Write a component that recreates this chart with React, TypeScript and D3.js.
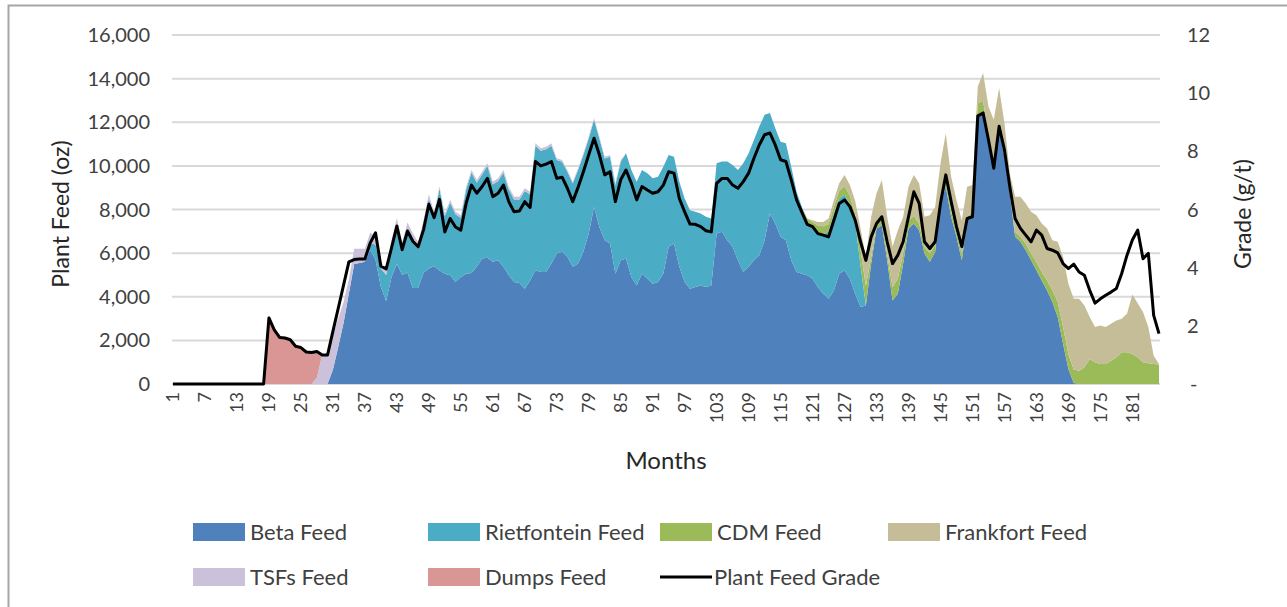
import * as d3 from 'd3';

// months 1..186 on the category axis
const months = d3.range(1, 187);
const xTicks = [1, 7, 13, 19, 25, 31, 37, 43, 49, 55, 61, 67, 73, 79, 85, 91, 97, 103, 109, 115, 121, 127, 133, 139, 145, 151, 157, 163, 169, 175, 181];
const leftTicks = [0, 2000, 4000, 6000, 8000, 10000, 12000, 14000, 16000];
const rightTicks = [0, 2, 4, 6, 8, 10, 12];

const betaFeed = [
  0, 0, 0, 0, 0, 0, 0, 0, 0, 0,
  0, 0, 0, 0, 0, 0, 0, 0, 0, 0,
  0, 0, 0, 0, 0, 0, 0, 0, 0, 0,
  650, 1700, 2800, 4150, 5500, 5550, 5600, 6150, 5700, 4450,
  3800, 4900, 5500, 5000, 5100, 4400, 4400, 5100, 5300, 5400,
  5200, 5060, 4980, 4680, 4900, 5060, 5090, 5370, 5750, 5790,
  5600, 5670, 5370, 4980, 4680, 4630, 4370, 4750, 5210, 5140,
  5140, 5520, 5980, 6060, 5830, 5370, 5520, 6060, 6900, 8120,
  7200, 6590, 6440, 5060, 5670, 5750, 4900, 4520, 5060, 4830,
  4600, 4680, 5060, 6290, 6440, 5370, 4680, 4370, 4450, 4520,
  4450, 4520, 6900, 6980, 6590, 6290, 5670, 5140, 5370, 5670,
  5900, 6590, 7820, 7360, 6750, 6590, 5670, 5140, 5060, 4980,
  4830, 4450, 4140, 3910, 4290, 5060, 5210, 4830, 4140, 3530,
  3600, 5520, 7130, 7280, 5670, 3830, 4140, 5520, 7130, 7360,
  7050, 5980, 5600, 6060, 8280, 9040, 7670, 6750, 5670, 7510,
  7740, 12260, 12340, 11040, 9810, 11650, 10420, 8740, 6750, 6520,
  6130, 5670, 5210, 4750, 4290, 3760, 3070, 1840, 690, 50,
  0, 0, 0, 0, 0, 0, 0, 0, 0, 0,
  0, 0, 0, 0, 0, 0,
];

const rietfonteinFeed = [
  0, 0, 0, 0, 0, 0, 0, 0, 0, 0,
  0, 0, 0, 0, 0, 0, 0, 0, 0, 0,
  0, 0, 0, 0, 0, 0, 0, 0, 0, 0,
  0, 0, 0, 0, 0, 0, 0, 300, 700, 850,
  1200, 1400, 1850, 1250, 2050, 2300, 1900, 2200, 3200, 2350,
  3750, 2640, 3330, 3100, 2720, 3860, 4600, 3860, 3860, 4210,
  3550, 3640, 4320, 3940, 3780, 3830, 4480, 3940, 5710, 5550,
  5620, 5400, 4290, 4130, 3900, 3820, 4290, 4440, 4360, 3990,
  4060, 3750, 3980, 4060, 4520, 4830, 4910, 4750, 4750, 4830,
  4830, 4820, 4900, 4210, 3980, 3900, 3830, 3600, 3450, 3300,
  3220, 3070, 3220, 3220, 3610, 3750, 4140, 4980, 5210, 5520,
  5900, 5750, 4600, 4370, 4360, 4450, 4290, 3670, 3060, 2460,
  2280, 2480, 2740, 3080, 3540, 3440, 3470, 3390, 3300, 1900,
  0, 0, 0, 0, 0, 0, 0, 0, 0, 0,
  0, 0, 0, 0, 0, 0, 0, 0, 0, 0,
  0, 0, 0, 0, 0, 0, 0, 0, 0, 0,
  0, 0, 0, 0, 0, 0, 0, 0, 0, 0,
  0, 0, 0, 0, 0, 0, 0, 0, 0, 0,
  0, 0, 0, 0, 0, 0,
];

const cdmFeed = [
  0, 0, 0, 0, 0, 0, 0, 0, 0, 0,
  0, 0, 0, 0, 0, 0, 0, 0, 0, 0,
  0, 0, 0, 0, 0, 0, 0, 0, 0, 0,
  0, 0, 0, 0, 0, 0, 0, 0, 0, 0,
  0, 0, 0, 0, 0, 0, 0, 0, 0, 0,
  0, 0, 0, 0, 0, 0, 0, 0, 0, 0,
  0, 0, 0, 0, 0, 0, 0, 0, 0, 0,
  0, 0, 0, 0, 0, 0, 0, 0, 0, 0,
  0, 0, 0, 0, 0, 0, 0, 0, 0, 0,
  0, 0, 0, 0, 0, 0, 0, 0, 0, 0,
  0, 0, 0, 0, 0, 0, 0, 0, 0, 0,
  0, 0, 0, 0, 0, 0, 0, 0, 0, 150,
  300, 350, 350, 350, 300, 350, 400, 400, 350, 700,
  900, 300, 200, 250, 300, 600, 700, 500, 350, 350,
  300, 300, 400, 300, 200, 250, 250, 200, 300, 150,
  150, 600, 650, 300, 250, 300, 300, 150, 230, 230,
  300, 300, 380, 380, 460, 540, 690, 770, 690, 610,
  610, 770, 1150, 1000, 920, 920, 1070, 1230, 1460, 1460,
  1380, 1230, 1000, 950, 920, 890,
];

const frankfortFeed = [
  0, 0, 0, 0, 0, 0, 0, 0, 0, 0,
  0, 0, 0, 0, 0, 0, 0, 0, 0, 0,
  0, 0, 0, 0, 0, 0, 0, 0, 0, 0,
  0, 0, 0, 0, 0, 0, 0, 0, 0, 0,
  0, 0, 0, 0, 0, 0, 0, 0, 0, 0,
  0, 0, 0, 0, 0, 0, 0, 0, 0, 0,
  0, 0, 0, 0, 0, 0, 0, 0, 0, 0,
  0, 0, 0, 0, 0, 0, 0, 0, 0, 0,
  0, 0, 0, 0, 0, 0, 0, 0, 0, 0,
  0, 0, 0, 0, 0, 0, 0, 0, 0, 0,
  0, 0, 0, 0, 0, 0, 0, 0, 0, 0,
  0, 0, 0, 0, 0, 0, 0, 0, 0, 0,
  100, 150, 200, 250, 300, 350, 500, 500, 600, 1000,
  1300, 1850, 1410, 1820, 1700, 1870, 2210, 1650, 1560, 1870,
  1850, 1390, 1740, 1760, 1640, 2210, 1580, 1480, 1540, 1380,
  1230, 780, 1270, 1380, 2050, 1620, 1240, 770, 1600, 1830,
  1850, 1930, 2150, 2230, 2380, 2290, 2760, 3220, 3220, 3250,
  3300, 2830, 1920, 1610, 1760, 1690, 1690, 1680, 1530, 1760,
  2720, 2470, 2300, 1660, 380, 30,
];

const tsfsFeed = [
  0, 0, 0, 0, 0, 0, 0, 0, 0, 0,
  0, 0, 0, 0, 0, 0, 0, 0, 0, 0,
  0, 0, 0, 0, 0, 0, 0, 300, 1350, 1400,
  1600, 1300, 950, 650, 700, 650, 600, 500, 350, 300,
  250, 300, 250, 250, 250, 200, 200, 200, 200, 120,
  120, 120, 120, 120, 120, 120, 120, 120, 120, 120,
  120, 120, 120, 120, 120, 120, 120, 120, 120, 120,
  120, 120, 80, 80, 80, 80, 80, 80, 80, 80,
  80, 80, 80, 80, 80, 0, 0, 0, 0, 0,
  0, 0, 0, 0, 0, 0, 0, 0, 0, 0,
  0, 0, 0, 0, 0, 0, 0, 0, 0, 0,
  0, 0, 0, 0, 0, 0, 0, 0, 0, 0,
  0, 0, 0, 0, 0, 0, 0, 0, 0, 0,
  0, 0, 0, 0, 0, 0, 0, 0, 0, 0,
  0, 0, 0, 0, 0, 0, 0, 0, 0, 0,
  0, 0, 0, 0, 0, 0, 0, 0, 0, 0,
  0, 0, 0, 0, 0, 0, 0, 0, 0, 0,
  0, 0, 0, 0, 0, 0, 0, 0, 0, 0,
  0, 0, 0, 0, 0, 0,
];

const dumpsFeed = [
  0, 0, 0, 0, 0, 0, 0, 0, 0, 0,
  0, 0, 0, 0, 0, 0, 0, 0, 3150, 2600,
  2200, 2150, 2100, 1800, 1750, 1500, 1450, 1150, 0, 0,
  0, 0, 0, 0, 0, 0, 0, 0, 0, 0,
  0, 0, 0, 0, 0, 0, 0, 0, 0, 0,
  0, 0, 0, 0, 0, 0, 0, 0, 0, 0,
  0, 0, 0, 0, 0, 0, 0, 0, 0, 0,
  0, 0, 0, 0, 0, 0, 0, 0, 0, 0,
  0, 0, 0, 0, 0, 0, 0, 0, 0, 0,
  0, 0, 0, 0, 0, 0, 0, 0, 0, 0,
  0, 0, 0, 0, 0, 0, 0, 0, 0, 0,
  0, 0, 0, 0, 0, 0, 0, 0, 0, 0,
  0, 0, 0, 0, 0, 0, 0, 0, 0, 0,
  0, 0, 0, 0, 0, 0, 0, 0, 0, 0,
  0, 0, 0, 0, 0, 0, 0, 0, 0, 0,
  0, 0, 0, 0, 0, 0, 0, 0, 0, 0,
  0, 0, 0, 0, 0, 0, 0, 0, 0, 0,
  0, 0, 0, 0, 0, 0, 0, 0, 0, 0,
  0, 0, 0, 0, 0, 0,
];

const plantFeedGrade = [
  0, 0, 0, 0, 0, 0, 0, 0, 0, 0,
  0, 0, 0, 0, 0, 0, 0, 0, 2.27, 1.86,
  1.6, 1.58, 1.52, 1.3, 1.25, 1.1, 1.08, 1.12, 1.0, 1.0,
  1.81, 2.6, 3.4, 4.2, 4.28, 4.3, 4.3, 4.85, 5.2, 4.05,
  3.96, 4.68, 5.43, 4.62, 5.26, 4.91, 4.72, 5.3, 6.18, 5.72,
  6.35, 5.23, 5.69, 5.4, 5.29, 6.21, 6.84, 6.56, 6.79, 7.07,
  6.44, 6.56, 6.84, 6.27, 5.92, 5.95, 6.27, 6.07, 7.65, 7.5,
  7.56, 7.65, 7.07, 7.11, 6.73, 6.27, 6.76, 7.3, 7.88, 8.45,
  7.88, 7.19, 7.3, 6.27, 7.02, 7.36, 6.9, 6.33, 6.79, 6.67,
  6.56, 6.61, 6.84, 7.3, 7.25, 6.38, 5.92, 5.5, 5.49, 5.41,
  5.27, 5.23, 6.9, 7.07, 7.07, 6.84, 6.73, 6.96, 7.25, 7.76,
  8.22, 8.57, 8.63, 8.22, 7.71, 7.65, 7.02, 6.33, 5.9, 5.49,
  5.41, 5.17, 5.12, 5.06, 5.63, 6.21, 6.33, 6.1, 5.63, 4.89,
  4.25, 5.06, 5.52, 5.75, 4.89, 4.14, 4.43, 4.89, 5.75, 6.61,
  6.21, 4.89, 4.66, 4.89, 6.21, 7.19, 6.27, 5.41, 4.72, 5.69,
  5.75, 9.22, 9.32, 8.4, 7.42, 8.86, 8.05, 6.79, 5.69, 5.35,
  5.12, 4.89, 5.29, 5.12, 4.66, 4.6, 4.51, 4.14, 3.97, 4.12,
  3.85, 3.74, 3.22, 2.78, 2.93, 3.05, 3.16, 3.28, 3.8, 4.43,
  4.95, 5.29, 4.31, 4.49, 2.36, 1.73,
];

const seriesNames = ['Beta Feed', 'Rietfontein Feed', 'CDM Feed', 'Frankfort Feed', 'TSFs Feed', 'Dumps Feed'];
const seriesColors = ['#4F81BD', '#4BACC6', '#9BBB59', '#C4BD97', '#CCC1DA', '#D99694'];
const keys = ['beta', 'riet', 'cdm', 'frank', 'tsf', 'dumps'];

const FONT = 'Lato, "Open Sans", sans-serif';

export default function App() {
  const W = 1287;
  const H = 607;

  const x = d3.scaleLinear().domain([1, 186]).range([173, 1159]);
  const yL = d3.scaleLinear().domain([0, 16000]).range([384, 35]);
  const yR = d3.scaleLinear().domain([0, 12]).range([384, 35]);

  const rows = months.map((m, i) => ({
    month: m,
    beta: betaFeed[i],
    riet: rietfonteinFeed[i],
    cdm: cdmFeed[i],
    frank: frankfortFeed[i],
    tsf: tsfsFeed[i],
    dumps: dumpsFeed[i],
  }));
  const stacked = d3.stack().keys(keys)(rows as any);

  const area = d3.area<any>()
    .x((d) => x(d.data.month))
    .y0((d) => yL(d[0]))
    .y1((d) => yL(d[1]));

  const gradeLine = d3.line<number>()
    .x((_, i) => x(months[i]))
    .y((d) => yR(d));

  const fmt = d3.format(',');

  // legend layout
  const legendItems = [
    { name: seriesNames[0], color: seriesColors[0], lx: 193, ly: 532 },
    { name: seriesNames[1], color: seriesColors[1], lx: 428, ly: 532 },
    { name: seriesNames[2], color: seriesColors[2], lx: 660, ly: 532 },
    { name: seriesNames[3], color: seriesColors[3], lx: 888, ly: 532 },
    { name: seriesNames[4], color: seriesColors[4], lx: 193, ly: 577 },
    { name: seriesNames[5], color: seriesColors[5], lx: 428, ly: 577 },
  ];

  return (
    <svg width={W} height={H} style={{ position: 'absolute', left: 0, top: 0, background: '#fff' }}>
      <rect x={8.5} y={5.5} width={1300} height={620} fill="#fff" stroke="#A6A6A6" strokeWidth={2} />

      {/* gridlines */}
      {leftTicks.map((t) => (
        <line key={t} x1={172} x2={1160} y1={yL(t)} y2={yL(t)} stroke="#D9D9D9" strokeWidth={2} />
      ))}

      {/* stacked areas */}
      {stacked.map((s, i) => (
        <path key={s.key} d={area(s as any) || ''} fill={seriesColors[i]} />
      ))}

      {/* grade line */}
      <path d={gradeLine(plantFeedGrade) || ''} fill="none" stroke="#000" strokeWidth={3} strokeLinejoin="round" />

      {/* left axis labels */}
      {leftTicks.map((t) => (
        <text key={t} x={150} y={yL(t)} dy="0.35em" textAnchor="end" fontFamily={FONT} fontSize={20} fill="#404040">
          {fmt(t)}
        </text>
      ))}

      {/* right axis labels */}
      {rightTicks.map((t) => (
        <text key={t} x={t === 0 ? 1190 : 1187} y={yR(t)} dy="0.35em" textAnchor="start" fontFamily={FONT} fontSize={20} fill="#404040">
          {t === 0 ? '-' : String(t)}
        </text>
      ))}

      {/* x tick labels */}
      {xTicks.map((t) => (
        <text key={t} transform={`translate(${x(t)},392) rotate(-90)`} dy="0.35em" textAnchor="end" fontFamily={FONT} fontSize={18} fill="#404040">
          {t}
        </text>
      ))}

      {/* axis titles */}
      <text x={666} y={461} dy="0.35em" textAnchor="middle" fontFamily={FONT} fontSize={24} fill="#262626">Months</text>
      <text transform="translate(61,214) rotate(-90)" dy="0.35em" textAnchor="middle" fontFamily={FONT} fontSize={23} fill="#262626">Plant Feed (oz)</text>
      <text transform="translate(1243,214) rotate(-90)" dy="0.35em" textAnchor="middle" fontFamily={FONT} fontSize={23} fill="#262626">Grade (g/t)</text>

      {/* legend */}
      {legendItems.map((it) => (
        <g key={it.name}>
          <rect x={it.lx} y={it.ly - 9} width={52} height={18} fill={it.color} />
          <text x={it.lx + 57} y={it.ly} dy="0.35em" fontFamily={FONT} fontSize={22} fill="#404040">{it.name}</text>
        </g>
      ))}
      <line x1={660} x2={712} y1={577} y2={577} stroke="#000" strokeWidth={3} />
      <text x={714} y={577} dy="0.35em" fontFamily={FONT} fontSize={22} fill="#404040">Plant Feed Grade</text>
    </svg>
  );
}
